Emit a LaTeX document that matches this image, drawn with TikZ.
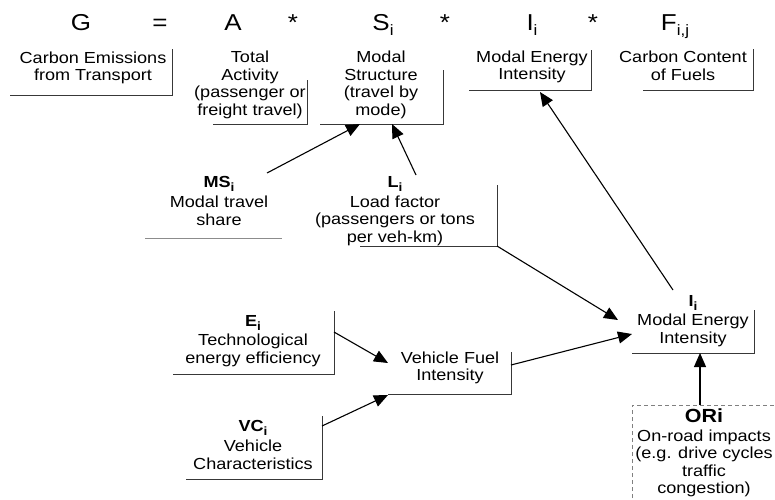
\documentclass[tikz,border=0pt]{standalone}
\usepackage{fontspec}
\setmainfont{Liberation Sans}[FakeStretch=1.13]
\usetikzlibrary{arrows.meta}
\newcommand\lowsub[2]{\raisebox{-0.25em}{\fontsize{#1}{#1}\selectfont #2}}
\begin{document}
\begin{tikzpicture}[x=1pt,y=-1pt,
  txt/.style={align=center,inner sep=0pt,font=\fontsize{16}{17.6}\selectfont},
  frm/.style={anchor=base,inner sep=0pt,font=\fontsize{23}{26}\selectfont},
  edgeline/.style={draw=black!78,line width=1pt},
  conn/.style={-{Triangle[length=14pt,width=12pt]},line width=1.1pt,draw=black}]
\useasboundingbox (0,0) rectangle (775,499);

% formula row
\node[frm] (G) at (81,30) {G};
\node[frm] (eq) at (160,30) {=};
\node[frm] (A) at (233,30) {A};
\node[frm] (m1) at (293,30) {*};
\node[frm] (S) at (383,30) {S\lowsub{15}{i}};
\node[frm] (m2) at (445,30) {*};
\node[frm] (I) at (532,30) {I\lowsub{15}{i}};
\node[frm] (m3) at (593,30) {*};
\node[frm] (F) at (675,30) {F\lowsub{15}{i,j}};

% top boxes
\node[txt] (carbon) at (93,68) {Carbon Emissions\\from Transport};
\draw[edgeline] (172,49) -- (172,95) -- (10,95);
\node[txt] (total) at (250,85) {Total\\Activity\\(passenger or\\freight travel)};
\draw[edgeline] (307,80) -- (307,124) -- (213,124);
\node[txt] (modal) at (381,85) {Modal\\Structure\\(travel by\\mode)};
\draw[edgeline] (443,70) -- (443,124) -- (320,124);
\coordinate (modalA) at (360,124);
\coordinate (modalB) at (392,124);
\node[txt] (mei) at (532,67) {Modal Energy\\Intensity};
\draw[edgeline] (591,50) -- (591,90) -- (469,90);
\coordinate (meiIn) at (540,92);
\node[txt] (ccf) at (683,66) {Carbon Content\\of Fuels};
\draw[edgeline] (753,49) -- (753,90) -- (643,90);

% middle
\node[txt] (ms) at (219,201) {\textbf{MS\lowsub{12}{i}}\\[2pt]Modal travel\\share};
\draw[draw=black!45,line width=0.8pt] (145,238) -- (282,238);
\coordinate (msOut) at (267,173);
\node[txt] (li) at (395,211) {\textbf{L\lowsub{12}{i}}\\[2pt]Load factor\\(passengers or tons\\per veh-km)};
\draw[edgeline] (497,185) -- (497,246) -- (360,246);
\coordinate (liOut) at (416,175);
\coordinate (liCorner) at (497,246);

% lower
\node[txt] (ei) at (253,341) {\textbf{E\lowsub{12}{i}}\\[2pt]Technological\\energy efficiency};
\draw[edgeline] (334,311) -- (334,374) -- (173,374);
\coordinate (eiOut) at (334,332);
\node[txt] (vfi) at (450,368) {Vehicle Fuel\\Intensity};
\draw[edgeline] (511,352) -- (511,394) -- (388,394);
\coordinate (vfiA) at (388,363);
\coordinate (vfiB) at (388,395);
\coordinate (vfiOut) at (511,365);
\node[txt] (vc) at (253,445) {\textbf{VC\lowsub{12}{i}}\\[2pt]Vehicle\\Characteristics};
\draw[edgeline] (322,416) -- (322,479) -- (186,479);
\coordinate (vcOut) at (322,426);

% modal energy intensity (lower)
\node[txt] (ii) at (693,321) {\textbf{I\lowsub{12}{i}}\\[2pt]Modal Energy\\Intensity};
\draw[edgeline] (754,310) -- (754,353) -- (632,353);
\coordinate (iiA) at (618,320);
\coordinate (iiB) at (632,334);
\coordinate (iiBottom) at (700,353);
\coordinate (iiOut) at (673,290);

% on-road impacts
\draw[draw=black!50,line width=1pt,dash pattern=on 4pt off 3pt] (632,505) -- (632,405) -- (780,405);
\node[txt] (ori) at (704,453) {{\fontsize{19}{20}\selectfont\textbf{ORi}}\\[1pt]On-road impacts\\(e.g. drive cycles\\traffic\\congestion)};
\coordinate (oriTop) at (700,405);

% connectors
\draw[conn] (msOut) -- (modalA);
\draw[conn] (liOut) -- (modalB);
\draw[conn] (liCorner) -- (iiA);
\draw[conn] (eiOut) -- (vfiA);
\draw[conn] (vcOut) -- (vfiB);
\draw[conn] (vfiOut) -- (iiB);
\draw[conn] (iiOut) -- (meiIn);
\draw[conn] (oriTop) -- (iiBottom);
\end{tikzpicture}
\end{document}
